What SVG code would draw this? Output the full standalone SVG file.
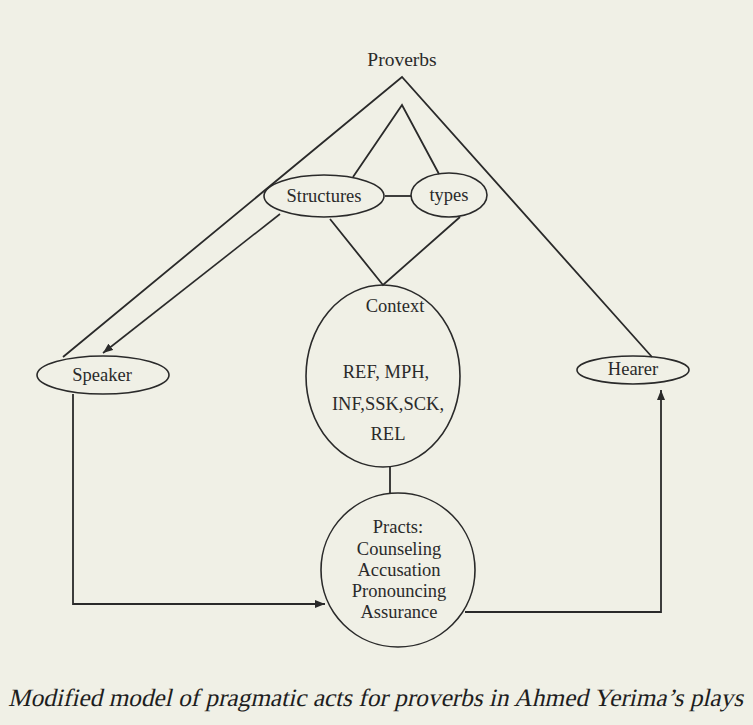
<svg xmlns="http://www.w3.org/2000/svg" width="753" height="725" viewBox="0 0 753 725">
<style>
.bg{fill:#f0f0e6}
.n{fill:none;stroke:#2a2a2a;stroke-width:1.6}
.c{fill:none;stroke:#2a2a2a;stroke-width:1.8}
.t{font-family:"Liberation Serif","Times New Roman",serif;font-size:18.5px;fill:#2a2a2a;text-anchor:middle}
.cap{font-family:"Liberation Serif","Times New Roman",serif;font-size:25px;fill:#1e1e1e}
</style>
<defs>
<marker id="ah" viewBox="0 0 10 8" refX="10" refY="4" markerWidth="10" markerHeight="8" markerUnits="userSpaceOnUse" orient="auto">
<path d="M0,0 L10,4 L0,8 Z" fill="#2a2a2a"/>
</marker>
</defs>
<rect class="bg" x="0" y="0" width="753" height="725"/>
<g id="connectors">
<polyline class="c" points="63,357 402,77 652,357"/>
<polyline class="c" points="353,177 402,105 439,174"/>
<line class="c" x1="385" y1="196" x2="411" y2="196"/>
<polyline class="c" points="330,219 383,285 460,217"/>
<line class="n" x1="280" y1="214" x2="103" y2="353" stroke-width="1.2" marker-end="url(#ah)"/>
<line class="c" x1="390" y1="467" x2="390" y2="493"/>
<polyline class="c" points="73,394 73,604 325,604" marker-end="url(#ah)"/>
<polyline class="c" points="465,612 661,612 661,390" marker-end="url(#ah)"/>
</g>
<g id="proverbs"><text class="t" x="402" y="66" style="font-size:19.5px">Proverbs</text></g>
<g id="structures"><ellipse class="n" cx="324" cy="196" rx="60" ry="21"/><text class="t" x="324" y="202">Structures</text></g>
<g id="types"><ellipse class="n" cx="449" cy="195" rx="38" ry="22"/><text class="t" x="449" y="201">types</text></g>
<g id="speaker"><ellipse class="n" cx="103" cy="375" rx="66" ry="19"/><text class="t" x="102" y="381">Speaker</text></g>
<g id="hearer"><ellipse class="n" cx="633" cy="370" rx="56" ry="14"/><text class="t" x="633" y="375">Hearer</text></g>
<g id="context"><ellipse class="n" cx="383" cy="376" rx="77" ry="91"/>
<text class="t" x="395" y="312">Context</text>
<text class="t" x="386" y="378">REF, MPH,</text>
<text class="t" x="388" y="410">INF,SSK,SCK,</text>
<text class="t" x="388" y="440">REL</text>
</g>
<g id="practs"><circle class="n" cx="398" cy="570" r="77"/>
<text class="t" x="398" y="533">Practs:</text>
<text class="t" x="399" y="555">Counseling</text>
<text class="t" x="399" y="576">Accusation</text>
<text class="t" x="399" y="597">Pronouncing</text>
<text class="t" x="399" y="618">Assurance</text>
</g>
<g transform="translate(8,706) skewX(-13)">
<text class="cap" x="0" y="0" textLength="735" lengthAdjust="spacingAndGlyphs">Modified model of pragmatic acts for proverbs in Ahmed Yerima’s plays</text>
</g>
</svg>
